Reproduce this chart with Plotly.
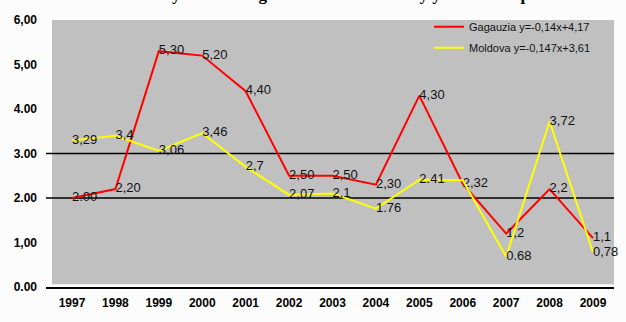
import plotly.graph_objects as go

# Years on the category axis
years = ["1997", "1998", "1999", "2000", "2001", "2002", "2003",
         "2004", "2005", "2006", "2007", "2008", "2009"]

# Gagauzia series
gagauzia = [2.00, 2.20, 5.30, 5.20, 4.40, 2.50, 2.50, 2.30, 4.30, 2.32, 1.20, 2.20, 1.10]
gagauzia_labels = ["2.00", "2,20", "5,30", "5,20", "4,40", "2,50", "2,50",
                   "2,30", "4,30", "2,32", "1,2", "2,2", "1,1"]

# Moldova series
moldova = [3.29, 3.40, 3.06, 3.46, 2.70, 2.07, 2.10, 1.76, 2.41, 2.40, 0.68, 3.72, 0.78]
moldova_labels = ["3,29", "3,4", "3,06", "3,46", "2,7", "2,07", "2,1",
                  "1.76", "2.41", "", "0.68", "3,72", "0,78"]

y_ticks = [0, 1, 2, 3, 4, 5, 6]
y_tick_text = ["0.00", "1,00", "2.00", "3.00", "4.00", "5,00", "6,00"]
grid_values = [2, 3]

legend_names = ["Gagauzia y=-0,14x+4,17", "Moldova y=-0,147x+3,61"]

W, H = 626, 322
ML, MR, MT, MB = 46, 12, 13, 33
plot_w = W - ML - MR
plot_h = H - MT - MB

xs = list(range(len(years)))
label_font = dict(family="Liberation Sans, Arial, sans-serif", size=13, color="#111111")

fig = go.Figure()
fig.add_trace(go.Scatter(
    x=xs, y=gagauzia, mode="lines+text", name=legend_names[0],
    line=dict(color="#ff0000", width=2),
    text=gagauzia_labels, textposition="middle right", textfont=label_font,
    cliponaxis=False, legendgroup="a",
))
fig.add_trace(go.Scatter(
    x=xs, y=moldova, mode="lines+text", name=legend_names[1],
    line=dict(color="#ffff00", width=2),
    text=moldova_labels, textposition="middle right", textfont=label_font,
    cliponaxis=False, legendgroup="b",
))

shapes = [
    # grey plot background, starting a little right of the axis start
    dict(type="rect", xref="paper", yref="paper", x0=6 / plot_w, x1=1, y0=0.01, y1=1,
         fillcolor="#c0c0c0", line=dict(width=0), layer="below"),
]
for g in grid_values:
    shapes.append(dict(type="line", xref="paper", yref="y", x0=0, x1=1, y0=g, y1=g,
                       line=dict(color="#000000", width=1.5), layer="below"))

fig.update_layout(
    width=W, height=H,
    margin=dict(l=ML, r=MR, t=MT, b=MB),
    paper_bgcolor="#fcfcfc", plot_bgcolor="rgba(0,0,0,0)",
    shapes=shapes,
    showlegend=True,
    legend=dict(
        x=(429 - ML) / plot_w, y=1 + 8 / plot_h, xanchor="left", yanchor="top",
        bgcolor="rgba(0,0,0,0)", borderwidth=0,
        font=dict(family="Liberation Sans, Arial, sans-serif", size=11, color="#111111"),
        tracegroupgap=2, itemwidth=30,
    ),
    annotations=[dict(
        text="<b>Infant mortality rate in Gagauzia and Moldova by years in the period</b>",
        xref="paper", yref="paper", x=(315 - ML) / plot_w, y=1 + (MT + 1) / plot_h,
        xanchor="center", yanchor="bottom", showarrow=False,
        font=dict(family="Liberation Serif, Times New Roman, serif", size=17, color="#000000"),
    )],
)

fig.update_xaxes(
    range=[-(72 - ML) / 43.4, 12 + (614 - 593) / 43.4],
    tickvals=xs, ticktext=["<b>" + y + "</b>" for y in years],
    showgrid=False, zeroline=False,
    showline=True, linecolor="#000000", linewidth=2,
    ticks="", ticklabelstandoff=4,
    tickfont=dict(family="Liberation Sans, Arial, sans-serif", size=12, color="#000000"),
)
fig.update_yaxes(
    range=[0, 6], tickvals=y_ticks, ticktext=["<b>" + t + "</b>" for t in y_tick_text],
    showgrid=False, zeroline=False, showline=False, ticks="",
    ticklabelstandoff=8,
    tickfont=dict(family="Liberation Sans, Arial, sans-serif", size=12, color="#000000"),
)

fig.write_html("out.html")
